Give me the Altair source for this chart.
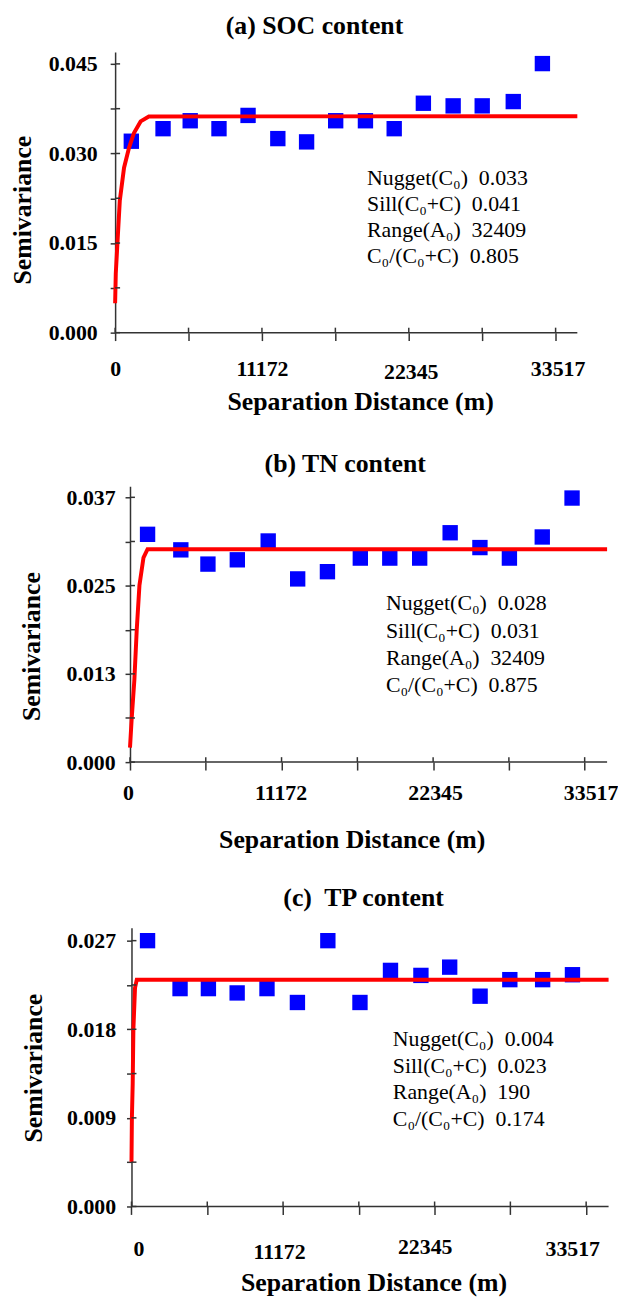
import altair as alt
import pandas as pd

FONT = "Liberation Serif"
AX = "#333333"
X_MAX = 35170

# ---- shared x ticks ----
x_ticks = [0, 5586, 11172, 16759, 22345, 27931, 33517]
x_tick_labels = ["0", "", "11172", "", "22345", "", "33517"]

# ---- panel (a) SOC ----
a_lag = [1232, 3647, 5713, 7903, 10115, 12380, 14569, 16782, 19047, 21235, 23455, 25720, 27932, 30295, 32512]
a_semiv = [0.03205, 0.03415, 0.03548, 0.03415, 0.03637, 0.03249, 0.03194, 0.03548, 0.03548, 0.03415,
           0.03841, 0.03797, 0.03797, 0.03869, 0.04505]
a_model_x = [0, 50, 174, 355, 679, 1057, 1434, 1940, 2567, 35170]
a_model_y = [0.00493, 0.00991, 0.01489, 0.02208, 0.02761, 0.03094, 0.03343, 0.03537, 0.03620, 0.03625]
a_y_ticks = [0.0, 0.0075, 0.015, 0.0225, 0.030, 0.0375, 0.045]
a_y_labels = ["0.000", "", "0.015", "", "0.030", "", "0.045"]
a_notes = ["Nugget(C\u2080)\u00a0\u00a00.033", "Sill(C\u2080+C)\u00a0\u00a00.041",
           "Range(A\u2080)\u00a0\u00a032409", "C\u2080/(C\u2080+C)\u00a0\u00a00.805"]

# ---- panel (b) TN ----
b_lag = [1295, 3747, 5745, 7911, 10187, 12360, 14555, 16978, 19151, 21354, 23601, 25796, 27969, 30391, 32587]
b_semiv = [0.03183, 0.02966, 0.02767, 0.02827, 0.03090, 0.02560, 0.02661, 0.02851, 0.02851, 0.02851,
           0.03205, 0.02998, 0.02851, 0.03146, 0.03690]
b_model_x = [0, 125, 322, 498, 695, 995, 1295, 35170]
b_model_y = [0.00204, 0.0061, 0.0115, 0.01853, 0.02467, 0.02859, 0.02975, 0.02975]
b_y_ticks = [0.0, 0.00617, 0.01233, 0.0185, 0.02467, 0.03083, 0.037]
b_y_labels = ["0.000", "", "0.013", "", "0.025", "", "0.037"]
b_notes = ["Nugget(C\u2080)\u00a0\u00a00.028", "Sill(C\u2080+C)\u00a0\u00a00.031",
           "Range(A\u2080)\u00a0\u00a032409", "C\u2080/(C\u2080+C)\u00a0\u00a00.875"]

# ---- panel (c) TP ----
c_lag = [1184, 3580, 5670, 7789, 9989, 12232, 14475, 16843, 19093, 21336, 23456, 25699, 27890, 30309, 32508]
c_semiv = [0.0270, 0.02213, 0.02213, 0.02169, 0.02213, 0.02072, 0.0270, 0.02072, 0.02398, 0.02347,
           0.02431, 0.02136, 0.02304, 0.02304, 0.02354]
c_model_x = [0, 30, 90, 140, 260, 390, 35170]
c_model_y = [0.00453, 0.0090, 0.0125, 0.0180, 0.0222, 0.02304, 0.02304]
c_y_ticks = [0.0, 0.0045, 0.009, 0.0135, 0.018, 0.0225, 0.027]
c_y_labels = ["0.000", "", "0.009", "", "0.018", "", "0.027"]
c_notes = ["Nugget(C\u2080)\u00a0\u00a00.004", "Sill(C\u2080+C)\u00a0\u00a00.023",
           "Range(A\u2080)\u00a0\u00a0190", "C\u2080/(C\u2080+C)\u00a0\u00a00.174"]


def label_expr(vals, labs):
    parts = []
    for v, l in zip(vals, labs):
        if l:
            parts.append(f"abs(datum.value - {v}) < 1e-7 ? '{l}' : ")
    return "".join(parts) + "''"


def cond_num(vals, shifts, base):
    """Per-tick numeric axis property (label nudges)."""
    conds = [{"test": f"abs(datum.value - {v}) < 1e-7", "value": base + s}
             for v, s in zip(vals, shifts) if s]
    if not conds:
        return base
    return {"condition": conds, "value": base}


def panel(title, lag, semiv, mx, my, yticks, ylabels, ymax, notes, wdata, h, c):
    x0 = c["x0"]                       # pixel offset of x = 0 inside the plot area
    xmin = -x0 * X_MAX / wdata
    xs = alt.Scale(domain=[xmin, X_MAX], nice=False, zero=False)
    ys = alt.Scale(domain=[0, ymax], nice=False, zero=False)

    x_axis = alt.Axis(
        values=x_ticks, labelExpr=label_expr(x_ticks, x_tick_labels),
        title="Separation Distance (m)", grid=False, domain=False,
        tickSize=8, tickWidth=1.5, tickColor=AX,
        labelFont=FONT, labelFontSize=22, labelFontWeight="bold", labelColor="black",
        labelPadding=cond_num(x_ticks, c["xdy"], c["xlp"]),
        labelOffset=cond_num(x_ticks, c["xdx"], 0),
        labelFlush=False, labelOverlap=False,
        titleFont=FONT, titleFontSize=26, titleFontWeight="bold", titleColor="black",
        titleX=c["xtx"], titleY=c["xty"], titleBaseline="middle", titleAlign="center",
    )
    y_axis = alt.Axis(
        values=yticks, labelExpr=label_expr(yticks, ylabels),
        title="Semivariance", grid=False, offset=-x0,
        tickSize=5, tickWidth=1.5, tickColor=AX, domainColor=AX, domainWidth=1.5,
        labelFont=FONT, labelFontSize=22, labelFontWeight="bold", labelColor="black",
        labelPadding=c["ylp"], labelFlush=False, labelOverlap=False,
        titleFont=FONT, titleFontSize=26, titleFontWeight="bold", titleColor="black",
        titleX=c["ytx"], titleY=c["yty"], titleBaseline="middle", titleAlign="center",
        titleAngle=270,
    )

    pts = alt.Chart(pd.DataFrame({"x": lag, "y": semiv})).mark_square(
        size=240, color="#0000ff", opacity=1
    ).encode(
        x=alt.X("x:Q", scale=xs, axis=x_axis),
        y=alt.Y("y:Q", scale=ys, axis=y_axis),
    )
    line = alt.Chart(pd.DataFrame({"x": mx, "y": my})).mark_line(
        color="#ff0000", strokeWidth=4
    ).encode(x=alt.X("x:Q", scale=xs), y=alt.Y("y:Q", scale=ys))
    xdomain = alt.Chart(pd.DataFrame({"x": [0], "x2": [X_MAX], "y": [0]})).mark_rule(
        color=AX, strokeWidth=1.5
    ).encode(x=alt.X("x:Q", scale=xs), x2="x2:Q", y=alt.Y("y:Q", scale=ys))
    yin = alt.Chart(pd.DataFrame({"y": yticks})).mark_rule(color=AX, strokeWidth=1.5).encode(
        y=alt.Y("y:Q", scale=ys), x=alt.value(x0), x2=alt.value(x0 + 5)
    )
    xin = alt.Chart(pd.DataFrame({"x": x_ticks})).mark_rule(color=AX, strokeWidth=1.5).encode(
        x=alt.X("x:Q", scale=xs), y=alt.value(h - 5), y2=alt.value(h)
    )
    note = alt.Chart(pd.DataFrame({"k": [0]})).mark_text(
        text=notes, align="left", baseline="middle", font=FONT, fontSize=22,
        lineHeight=c["lh"], color="black"
    ).encode(x=alt.value(c["nx"]), y=alt.value(c["ny"]))
    head = alt.Chart(pd.DataFrame({"k": [0]})).mark_text(
        text=title, align="center", baseline="middle", font=FONT, fontSize=26,
        fontWeight="bold", color="black"
    ).encode(x=alt.value(c["tx"]), y=alt.value(c["ty"]))
    spacer = alt.Chart(pd.DataFrame({"k": [0]})).mark_rule(opacity=0).encode(
        x=alt.value(-c["L"]), y=alt.value(-c["T"]), y2=alt.value(c["B"])
    )

    return alt.layer(pts, line, xdomain, yin, xin, note, head, spacer).properties(
        width=wdata + x0, height=h
    )


pa = panel("(a) SOC content", a_lag, a_semiv, a_model_x, a_model_y, a_y_ticks, a_y_labels, 0.047,
           a_notes, 466, 283,
           dict(x0=0, xlp=18, xdy=[0, 0, 0, 0, 3, 0, 0], xdx=[0, 0, 0, 0, 2, 0, 2],
                xtx=247, xty=69, ylp=13, ytx=-93, yty=159, lh=26.4, nx=254, ny=127,
                tx=201, ty=-26, L=108, T=39, B=386))
pb = panel("(b) TN content", b_lag, b_semiv, b_model_x, b_model_y, b_y_ticks, b_y_labels, 0.03853,
           b_notes, 481, 278,
           dict(x0=15, xlp=13, xdy=[0, 0, 0, 0, 0, 0, 0], xdx=[-2, 0, -1, 0, 2, 0, 6],
                xtx=238.5, xty=78, ylp=10, ytx=-99, yty=161, lh=27.5, nx=273, ny=118,
                tx=232, ty=-22, L=100, T=52, B=387))
pc = panel("(c)\u00a0 TP content", c_lag, c_semiv, c_model_x, c_model_y, c_y_ticks, c_y_labels, 0.02831,
           c_notes, 481, 281,
           dict(x0=16.5, xlp=24, xdy=[0, 0, 3, 0, -2, 0, 0], xdx=[7, 0, -4, 0, -10, 0, -14],
                xtx=260.5, xty=77, ylp=11, ytx=-98.5, yty=141, lh=27, nx=280, ny=112,
                tx=250.5, ty=-30, L=100, T=58, B=364))

chart = alt.concat(pa, pb, pc, columns=1, spacing=0, align="none").properties(padding=0).configure_view(
    stroke=None
)

chart.save("out.html", embed_options={"renderer": "svg", "actions": False})
